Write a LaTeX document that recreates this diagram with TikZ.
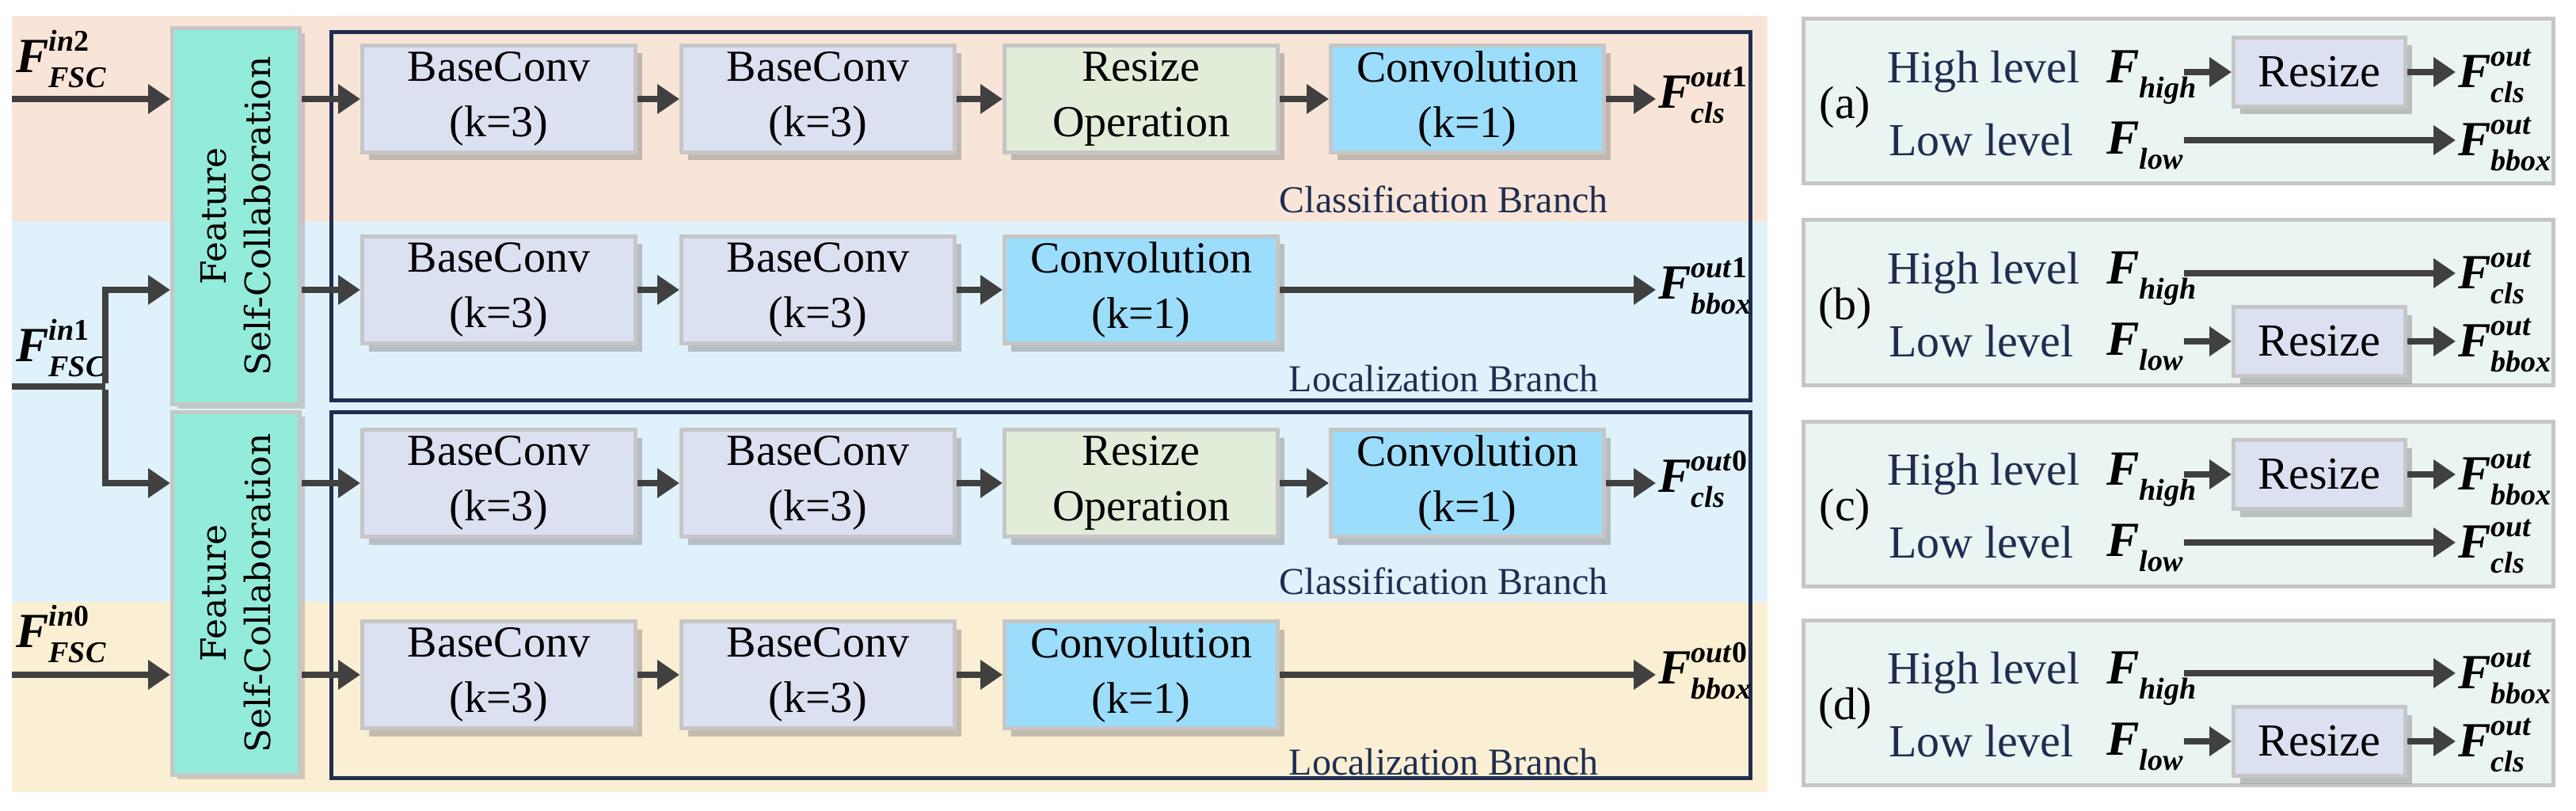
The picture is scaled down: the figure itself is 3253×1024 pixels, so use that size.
\documentclass[tikz,border=0pt]{standalone}
\usepackage{fontspec}
\setmainfont{Liberation Serif}
\newfontfamily\fscfont{DejaVu Serif}
\usetikzlibrary{shadows,arrows.meta}
\definecolor{pinkb}{HTML}{F9E5D7}
\definecolor{blueb}{HTML}{DFF2FC}
\definecolor{yelb}{HTML}{FBEFD3}
\definecolor{fscc}{HTML}{93EBDA}
\definecolor{bconv}{HTML}{DCE1F2}
\definecolor{resz}{HTML}{E2EDD9}
\definecolor{convc}{HTML}{9CDDFB}
\definecolor{navy}{HTML}{1F2D50}
\definecolor{panel}{HTML}{EAF4F2}
\definecolor{bord}{HTML}{C6C6C6}
\definecolor{arr}{HTML}{404040}
\newcommand\Flab[2]{{\fontsize{62}{62}\selectfont\bfseries\itshape F}\makebox[0pt][l]{\raisebox{27pt}{\fontsize{38}{38}\selectfont\bfseries\itshape #1}}\raisebox{-19pt}{\fontsize{38}{38}\selectfont\bfseries\itshape #2}}
\begin{document}
\begin{tikzpicture}[x=1pt,y=-1pt,
  box/.style={draw=bord,line width=5pt,minimum width=345pt,minimum height=135pt,align=center,font=\rmfamily\fontsize{56}{70}\selectfont,
    drop shadow={opacity=0.45,shadow xshift=8pt,shadow yshift=-10pt}},
  bc/.style={box,fill=bconv},
  rz/.style={box,fill=resz},
  cv/.style={box,fill=convc},
  fsc/.style={draw=bord,line width=5pt,fill=fscc,minimum width=161pt,align=center,
    drop shadow={opacity=0.35,shadow xshift=6pt,shadow yshift=-6pt}},
  outer/.style={draw=navy,line width=5pt},
  ar/.style={draw=arr,line width=8pt,-{Triangle[length=28pt,width=36pt]}},
  ln/.style={draw=arr,line width=8pt},
  brl/.style={text=navy,font=\fontsize{48}{48}\selectfont},
  pan/.style={draw=bord,line width=5pt,fill=panel},
  lvl/.style={text=navy,font=\fontsize{58}{58}\selectfont},
  rs/.style={draw=bord,line width=5pt,fill=bconv,minimum width=217pt,minimum height=87pt,font=\fontsize{58}{58}\selectfont,
    drop shadow={opacity=0.45,shadow xshift=8pt,shadow yshift=-10pt}},
  lab/.style={inner sep=0pt,anchor=west}]
\useasboundingbox (0,0) rectangle (3253,1024);
% bands
\fill[pinkb] (15,20) rectangle (2232,280);
\fill[blueb] (15,280) rectangle (2232,760);
\fill[yelb] (15,760) rectangle (2232,1000);
% outer boxes
\draw[outer] (418,41) rectangle (2210,505);
\draw[outer] (418,520) rectangle (2210,982);
% FSC boxes
\node[fsc,minimum height=474pt] (f1) at (298,273) {};
\node[fsc,minimum height=458pt] (f2) at (298,749) {};
\node[rotate=90,align=center,font=\fscfont\fontsize{44}{56}\selectfont] at (f1.center) {Feature\\Self-Collaboration};
\node[rotate=90,align=center,font=\fscfont\fontsize{44}{56}\selectfont] at (f2.center) {Feature\\Self-Collaboration};
% rows
\foreach \r/\y in {1/125,3/610}{
  \node[bc] (a\r) at (630,\y) {BaseConv\\(k=3)};
  \node[bc] (b\r) at (1033,\y) {BaseConv\\(k=3)};
  \node[rz] (c\r) at (1441,\y) {Resize\\Operation};
  \node[cv] (d\r) at (1853,\y) {Convolution\\(k=1)};
  \coordinate (o\r) at (2091,\y);
}
\foreach \r/\y in {2/366,4/852}{
  \node[bc] (a\r) at (630,\y) {BaseConv\\(k=3)};
  \node[bc] (b\r) at (1033,\y) {BaseConv\\(k=3)};
  \node[cv] (c\r) at (1441,\y) {Convolution\\(k=1)};
  \coordinate (o\r) at (2091,\y);
}
\foreach \r in {1,3}{
  \draw[ar] (a\r) -- (b\r); \draw[ar] (b\r) -- (c\r); \draw[ar] (c\r) -- (d\r); \draw[ar] (d\r) -- (o\r);}
\foreach \r in {2,4}{
  \draw[ar] (a\r) -- (b\r); \draw[ar] (b\r) -- (c\r); \draw[ar] (c\r) -- (o\r);}
\draw[ar] (f1.east |- a1) -- (a1);
\draw[ar] (f1.east |- a2) -- (a2);
\draw[ar] (f2.east |- a3) -- (a3);
\draw[ar] (f2.east |- a4) -- (a4);
\node[lab] (l1) at (2094,120) {\Flab{out\textup{1}}{cls}};
\node[lab] (l2) at (2094,361) {\Flab{out\textup{1}}{bbox}};
\node[lab] (l3) at (2094,605) {\Flab{out\textup{0}}{cls}};
\node[lab] (l4) at (2094,847) {\Flab{out\textup{0}}{bbox}};
\node[brl] (t1) at (1823,252) {Classification Branch};
\node[brl] (t2) at (1823,478) {Localization Branch};
\node[brl] (t3) at (1823,734) {Classification Branch};
\node[brl] (t4) at (1823,962) {Localization Branch};
% inputs
\node[lab] (i2) at (20,75) {\Flab{in\textup{2}}{FSC}};
\node[lab] (i1) at (20,440) {\Flab{in\textup{1}}{FSC}};
\node[lab] (i0) at (20,800) {\Flab{in\textup{0}}{FSC}};
\coordinate (s2) at (15,125);
\coordinate (s1) at (15,488);
\coordinate (j) at (133,488);
\coordinate (s0) at (15,852);
\draw[ar] (s2) -- (f1.west |- s2);
\draw[ln] (s1) -- (j);
\draw[ar] ([yshift=4pt]j) |- (f1.west |- a2);
\draw[ar] ([yshift=-4pt]j) |- (f2.west |- a3);
\draw[ar] (s0) -- (f2.west |- s0);
% right panels
\foreach \p/\t/\k/\hb/\lb in {a/24/1/cls/bbox, b/278/0/cls/bbox, c/532/1/bbox/cls, d/783/0/bbox/cls}{
  \draw[pan] (2277,\t) rectangle (3224,\t+208);
  \node[font=\fontsize{58}{58}\selectfont] (p\p) at (2330,\t+112) {(\p)};
  \node[lvl] (h\p) at (2505,\t+67) {High level};
  \node[lvl] (w\p) at (2502,\t+153) {Low level};
  \node[lab] (fh\p) at (2660,\t+74) {\Flab{}{high}};
  \node[lab] (fl\p) at (2660,\t+160) {\Flab{}{low}};
  \coordinate (hs\p) at (2758,\t+67);
  \coordinate (ls\p) at (2758,\t+153);
  \coordinate (he\p) at (3101,\t+67);
  \coordinate (le\p) at (3101,\t+153);
  \node[lab] (oh\p) at (3104,\t+72) {\Flab{out}{\hb}};
  \node[lab] (ol\p) at (3104,\t+158) {\Flab{out}{\lb}};
  \ifnum\k=1
    \node[rs] (r\p) at (2929,\t+67) {Resize};
    \draw[ar] (hs\p) -- (r\p); \draw[ar] (r\p) -- (he\p);
    \draw[ar] (ls\p) -- (le\p);
  \else
    \node[rs] (r\p) at (2929,\t+153) {Resize};
    \draw[ar] (ls\p) -- (r\p); \draw[ar] (r\p) -- (le\p);
    \draw[ar] (hs\p) -- (he\p);
  \fi
}
\end{tikzpicture}
\end{document}
